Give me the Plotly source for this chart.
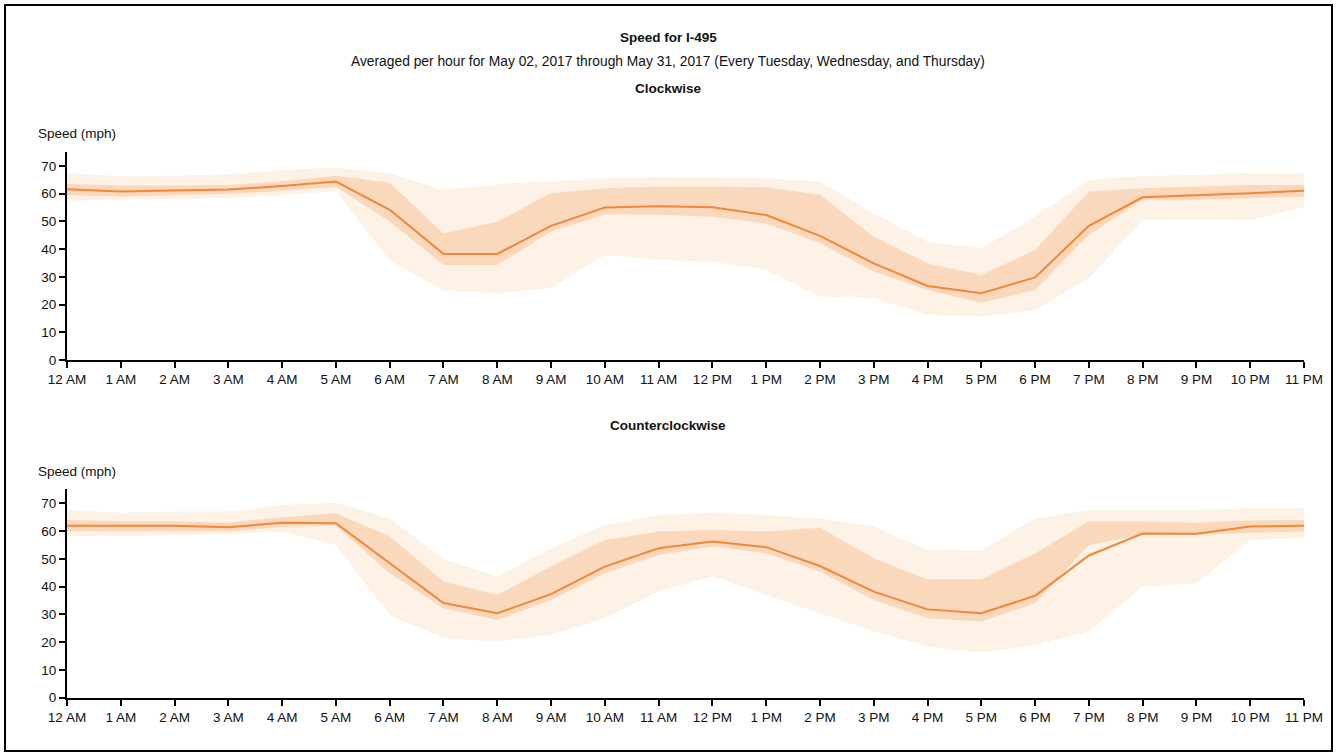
import plotly.graph_objects as go

hours = list(range(24))
hour_labels = ["12 AM", "1 AM", "2 AM", "3 AM", "4 AM", "5 AM", "6 AM", "7 AM", "8 AM", "9 AM",
               "10 AM", "11 AM", "12 PM", "1 PM", "2 PM", "3 PM", "4 PM", "5 PM", "6 PM", "7 PM",
               "8 PM", "9 PM", "10 PM", "11 PM"]
y_ticks = [0, 10, 20, 30, 40, 50, 60, 70]

# Clockwise
cw_mean = [61.6, 60.8, 61.2, 61.5, 62.8, 64.4, 54.2, 38.3, 38.3, 48.4, 55.0, 55.5,
           55.1, 52.3, 44.8, 34.9, 26.7, 24.1, 29.8, 48.4, 58.7, 59.4, 60.2, 61.1]
cw_inner_hi = [63.5, 63.0, 63.0, 63.2, 64.5, 66.5, 64.0, 45.7, 49.9, 60.2, 62.0, 62.6,
               62.6, 62.3, 59.6, 44.5, 34.9, 30.7, 39.7, 60.8, 62.0, 62.6, 63.2, 63.2]
cw_inner_lo = [59.5, 59.0, 59.5, 60.0, 61.0, 62.5, 50.0, 34.3, 34.3, 46.3, 52.6, 52.4,
               51.7, 49.3, 42.2, 31.9, 25.3, 20.7, 25.3, 45.1, 57.8, 57.8, 58.4, 59.0]
cw_outer_hi = [67.5, 66.3, 66.5, 67.0, 68.5, 69.5, 67.5, 61.4, 63.5, 64.6, 65.6, 66.0,
               66.0, 65.6, 64.4, 53.0, 42.7, 40.3, 51.7, 65.0, 66.4, 66.8, 67.6, 67.6]
cw_outer_lo = [57.5, 57.8, 58.0, 58.5, 59.5, 61.0, 36.0, 25.0, 24.0, 26.0, 37.9, 36.1,
               35.5, 32.5, 22.9, 22.4, 16.2, 15.6, 18.0, 29.5, 50.5, 50.7, 50.5, 55.3]

# Counterclockwise
ccw_mean = [61.9, 61.9, 61.9, 61.4, 63.0, 62.8, 48.4, 34.1, 30.4, 37.3, 47.2, 53.8,
            56.2, 54.2, 47.4, 38.2, 31.8, 30.4, 36.7, 51.2, 59.1, 59.0, 61.6, 61.9]
ccw_inner_hi = [64.0, 63.5, 63.5, 63.0, 65.0, 66.4, 58.0, 41.8, 37.0, 47.2, 56.8, 59.8,
                60.4, 59.8, 61.2, 50.2, 42.6, 42.6, 52.0, 63.5, 63.4, 63.0, 63.8, 64.0]
ccw_inner_lo = [60.0, 60.0, 60.0, 59.8, 61.5, 62.0, 44.8, 32.2, 28.0, 35.2, 44.8, 51.4,
                54.4, 52.0, 45.4, 35.2, 28.6, 27.4, 34.0, 55.0, 58.6, 58.6, 59.4, 59.8]
ccw_outer_hi = [67.6, 66.6, 67.0, 67.0, 69.4, 70.2, 64.6, 50.0, 43.6, 53.8, 62.2, 65.8,
                66.6, 65.8, 64.6, 61.6, 53.4, 52.9, 64.6, 67.6, 67.6, 67.6, 68.2, 68.2]
ccw_outer_lo = [58.0, 58.2, 58.5, 59.0, 59.8, 55.0, 29.8, 21.4, 20.2, 22.6, 28.6, 38.2,
                43.6, 37.0, 30.4, 23.8, 18.4, 16.2, 19.0, 23.8, 40.0, 41.2, 56.8, 57.4]

W, H = 1336, 755
LINE_COLOR = "#f0873a"
INNER_COLOR = "#fad8bc"
OUTER_COLOR = "#fef1e6"
FONT = "Liberation Sans, Arial, sans-serif"
TXT = "#111111"

fig = go.Figure()


def add_panel(xa, ya, mean, ilo, ihi, olo, ohi):
    common = dict(x=hours, xaxis=xa, yaxis=ya, hoverinfo="skip", showlegend=False, mode="lines")
    fig.add_trace(go.Scatter(y=olo, line=dict(width=0, color=OUTER_COLOR), **common))
    fig.add_trace(go.Scatter(y=ohi, line=dict(width=0, color=OUTER_COLOR), fill="tonexty",
                             fillcolor=OUTER_COLOR, **common))
    fig.add_trace(go.Scatter(y=ilo, line=dict(width=0, color=INNER_COLOR), **common))
    fig.add_trace(go.Scatter(y=ihi, line=dict(width=0, color=INNER_COLOR), fill="tonexty",
                             fillcolor=INNER_COLOR, **common))
    fig.add_trace(go.Scatter(y=mean, line=dict(width=2, color=LINE_COLOR), **common))


add_panel("x", "y", cw_mean, cw_inner_lo, cw_inner_hi, cw_outer_lo, cw_outer_hi)
add_panel("x2", "y2", ccw_mean, ccw_inner_lo, ccw_inner_hi, ccw_outer_lo, ccw_outer_hi)


def px_x(p):
    return p / W


def px_y(p):
    return 1 - p / H


x_dom = [px_x(67), px_x(1304)]
tickfont = dict(size=13.5, color=TXT, family=FONT)
xaxis_common = dict(range=[0, 23], tickmode="array", tickvals=hours, ticktext=hour_labels,
                    showline=True, linecolor="black", linewidth=2, ticks="outside",
                    ticklen=6, tickwidth=2, tickcolor="black", showgrid=False, zeroline=False,
                    tickfont=tickfont, fixedrange=True, automargin=False)
yaxis_common = dict(range=[0, 75], tickmode="array", tickvals=y_ticks,
                    showline=True, linecolor="black", linewidth=2, ticks="outside",
                    ticklen=6, tickwidth=2, tickcolor="black", showgrid=False, zeroline=False,
                    tickfont=tickfont, fixedrange=True, automargin=False)

fig.update_layout(
    template="none",
    width=W, height=H,
    margin=dict(l=0, r=0, t=0, b=0, pad=0, autoexpand=False),
    paper_bgcolor="white", plot_bgcolor="white",
    font=dict(family=FONT, color=TXT, size=13),
    hovermode=False,
    showlegend=False,
    xaxis=dict(domain=x_dom, anchor="y", **xaxis_common),
    yaxis=dict(domain=[px_y(360), px_y(152.2)], anchor="x", **yaxis_common),
    xaxis2=dict(domain=x_dom, anchor="y2", **xaxis_common),
    yaxis2=dict(domain=[px_y(697.7), px_y(489.4)], anchor="x2", **yaxis_common),
)

annotations = [
    dict(text="<b>Speed for I-495</b>", y=37, size=13.5),
    dict(text="Averaged per hour for May 02, 2017 through May 31, 2017 (Every Tuesday, Wednesday, and Thursday)",
         y=61, size=13.8),
    dict(text="<b>Clockwise</b>", y=88, size=13.5),
    dict(text="<b>Counterclockwise</b>", y=425, size=13.5),
]
for a in annotations:
    fig.add_annotation(text=a["text"], x=0.5, y=px_y(a["y"]), xref="paper", yref="paper",
                       xanchor="center", yanchor="middle", showarrow=False,
                       font=dict(size=a["size"], family=FONT, color=TXT))
for yy in (134, 471):
    fig.add_annotation(text="Speed (mph)", x=px_x(36), y=px_y(yy), xref="paper", yref="paper",
                       xanchor="left", yanchor="middle", showarrow=False,
                       font=dict(size=13.5, family=FONT, color=TXT))

fig.add_shape(type="rect", xref="paper", yref="paper",
              x0=px_x(5), x1=px_x(1332), y0=px_y(751), y1=px_y(5),
              line=dict(color="black", width=2), fillcolor="rgba(0,0,0,0)", layer="above")

fig.write_html("out.html", config={"displayModeBar": False, "staticPlot": True},
               post_script="document.body.style.margin='0';document.body.style.overflow='hidden';")
